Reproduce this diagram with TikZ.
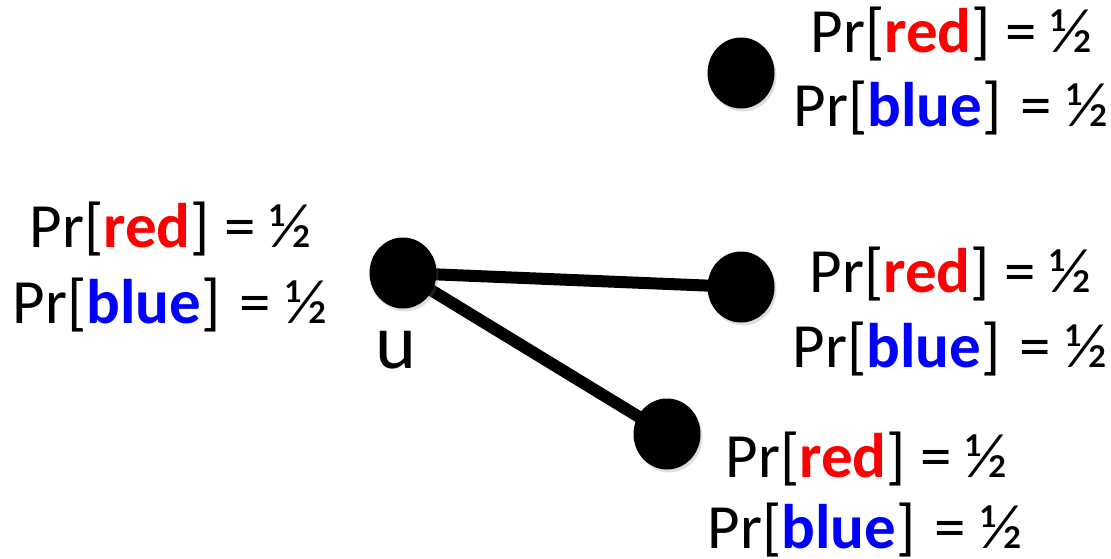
\documentclass[tikz,border=0pt]{standalone}
\usepackage{fontspec}
\setmainfont{Carlito}
\usetikzlibrary{shapes.geometric,shadows,backgrounds}
\definecolor{pred}{RGB}{255,0,0}
\definecolor{pblue}{RGB}{0,0,255}
\newcommand{\redline}{Pr[\textcolor{pred}{\textbf{red}}] = ½}
\newcommand{\blueline}{Pr[\textcolor{pblue}{\textbf{blue}}]\hspace{5pt} = ½}
\tikzset{
  dot/.style={ellipse, fill=black, minimum width=67pt, minimum height=71pt, inner sep=0pt,
    drop shadow={shadow xshift=2pt, shadow yshift=-3pt, opacity=0.25}},
  edge/.style={line width=12pt},
  prob/.style={anchor=base, inner sep=0pt, font=\fontsize{63}{74}\selectfont},
  vlabel/.style={anchor=base, inner sep=0pt, font=\fontsize{78}{90}\selectfont},
}
\begin{document}
\begin{tikzpicture}[x=1pt,y=-1pt]
  \useasboundingbox (0,0) rectangle (1111,559);

  % vertices
  \node[dot] (t) at (741,73) {};
  \node[dot] (u) at (403,273) {};
  \node[dot] (m) at (741,287) {};
  \node[dot] (b) at (667,434) {};

  % edges of u, kept behind the vertices
  \begin{scope}[on background layer]
    \draw[edge] (u.center) -- (m.center);
    \draw[edge] (u.center) -- (b.center);
  \end{scope}

  \node[vlabel] (ul) at (396,368) {u};

  % probabilities
  \node[prob] (t1) at (952,53)  {\redline};
  \node[prob] (t2) at (951,127) {\blueline};
  \node[prob] (l1) at (171,247) {\redline};
  \node[prob] (l2) at (170,323) {\blueline};
  \node[prob] (m1) at (951,292) {\redline};
  \node[prob] (m2) at (950,367) {\blueline};
  \node[prob] (b1) at (867,477) {\redline};
  \node[prob] (b2) at (865,548) {\blueline};
\end{tikzpicture}
\end{document}
